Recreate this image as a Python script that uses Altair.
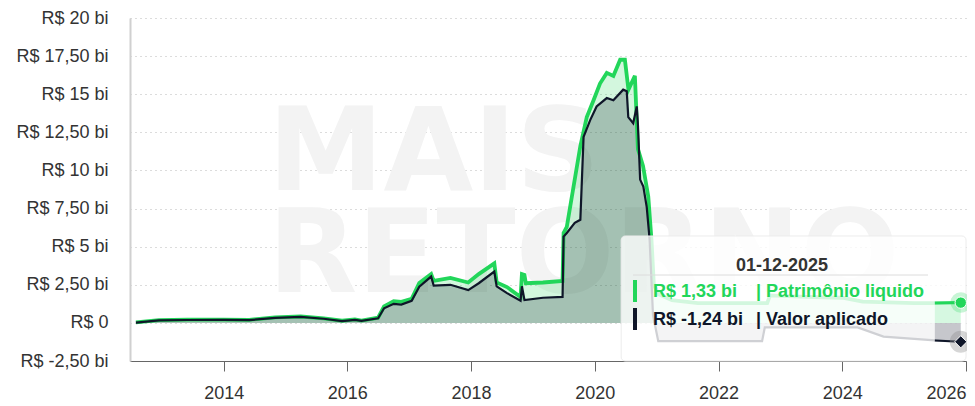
import altair as alt
import pandas as pd

# Patrimônio líquido (R$ bi)
pl_dates = ["2012-08-01","2012-12-15","2013-06-01","2014-01-01","2014-06-01","2014-11-01",
            "2015-04-01","2015-08-15","2015-12-01","2016-02-15","2016-03-25","2016-07-01",
            "2016-08-05","2016-10-01","2016-11-15","2017-01-15","2017-03-01","2017-05-10",
            "2017-05-25","2017-09-01","2017-12-15","2018-02-15","2018-05-18","2018-06-01",
            "2018-08-01","2018-10-20","2018-10-28","2018-11-12","2018-11-20","2019-03-01",
            "2019-06-25","2019-07-01","2019-07-20","2019-10-08","2019-11-15","2019-12-25",
            "2020-02-01","2020-03-12","2020-04-20","2020-05-30","2020-06-27","2020-07-18",
            "2020-08-25","2020-09-12","2020-10-12","2020-11-12","2020-12-01","2020-12-15",
            "2021-01-10","2021-04-01","2021-09-01","2022-06-01","2022-10-15","2022-11-01",
            "2023-06-01","2024-01-01","2024-05-01","2025-03-01","2025-07-01","2025-12-01"]
pl_values = [0.03,0.18,0.21,0.22,0.20,0.36,
             0.42,0.29,0.14,0.23,0.15,0.34,
             1.08,1.42,1.38,1.58,2.62,3.20,
             2.75,2.95,2.65,3.20,3.90,2.65,
             2.35,1.70,3.20,3.15,2.60,2.65,
             2.75,5.90,6.30,11.60,13.50,14.60,
             15.70,16.40,16.20,17.26,17.26,15.30,
             16.20,11.40,10.30,8.30,5.45,2.50,
             1.90,1.50,1.30,1.30,1.30,1.80,
             1.70,1.65,1.40,1.30,1.30,1.33]

# Valor aplicado (R$ bi)
va_dates = ["2012-08-01","2012-12-15","2013-06-01","2014-01-01","2014-06-01","2014-11-01",
            "2015-04-01","2015-08-15","2015-12-01","2016-02-15","2016-03-25","2016-07-01",
            "2016-08-05","2016-10-01","2016-11-15","2017-01-15","2017-03-01","2017-05-10",
            "2017-05-25","2017-09-01","2017-12-15","2018-02-15","2018-05-18","2018-06-01",
            "2018-08-01","2018-10-20","2018-10-28","2018-11-12","2019-03-01","2019-06-25",
            "2019-07-01","2019-07-20","2019-09-05","2019-10-08","2019-10-27","2019-12-05",
            "2020-01-12","2020-03-12","2020-04-20","2020-06-17","2020-07-08","2020-07-17",
            "2020-08-15","2020-09-05","2020-09-12","2020-09-25","2020-10-14","2020-11-03",
            "2020-11-20","2020-12-10","2021-01-10","2022-09-15","2022-10-01","2024-04-01",
            "2024-09-01","2025-07-01","2025-12-01"]
va_values = [0.02,0.17,0.19,0.20,0.18,0.33,
             0.40,0.27,0.12,0.20,0.13,0.30,
             0.96,1.25,1.20,1.45,2.38,3.04,
             2.45,2.50,2.15,2.60,3.37,2.40,
             1.95,1.46,2.40,1.50,1.65,1.70,
             5.66,5.90,6.56,6.76,12.20,13.30,
             14.20,14.75,14.60,15.30,15.20,13.50,
             13.10,14.20,13.00,9.40,8.94,7.60,
             5.45,0.50,-1.20,-1.20,-0.30,-0.30,
             -0.90,-1.15,-1.24]

y_ticks = [-2.5, 0.0, 2.5, 5.0, 7.5, 10.0, 12.5, 15.0, 17.5, 20.0]
y_tick_labels = ["R$ -2,50 bi", "R$ 0", "R$ 2,50 bi", "R$ 5 bi", "R$ 7,50 bi", "R$ 10 bi",
                 "R$ 12,50 bi", "R$ 15 bi", "R$ 17,50 bi", "R$ 20 bi"]
x_tick_years = [2014, 2016, 2018, 2020, 2022, 2024, 2026]

GREEN = "#22d65a"
NAVY = "#0f1629"
W, H = 836, 343

pl = pd.DataFrame({"date": [d + "T00:00:00" for d in pl_dates], "v": pl_values})
va = pd.DataFrame({"date": [d + "T00:00:00" for d in va_dates], "v": va_values})
one = pd.DataFrame({"k": [0]})

xscale = alt.Scale(domain=[alt.DateTime(year=2012, month=6, date=27),
                           alt.DateTime(year=2026, month=1, date=1)])
yscale = alt.Scale(domain=[-2.5, 20], nice=False, zero=False)

# label lookup keyed by tick index (value / 2.5)
label_map = ", ".join(f"'{int(round(v / 2.5))}': '{t}'" for v, t in zip(y_ticks, y_tick_labels))
label_expr = "{" + label_map + "}[toString(round(datum.value / 2.5))]"

X = alt.X("date:T", scale=xscale, title=None,
          axis=alt.Axis(values=[alt.DateTime(year=y, month=1, date=1) for y in x_tick_years],
                        format="%Y", grid=False, domainColor="#666", tickColor="#666",
                        tickSize=10, labelFontSize=18, labelColor="#333",
                        labelFont="Liberation Sans", labelPadding=13,
                        labelOverlap=False,
                        labelAlign={"condition": {"test": "year(datum.value) >= 2026", "value": "right"},
                                    "value": "center"}))
Y = alt.Y("v:Q", scale=yscale, title=None,
          axis=alt.Axis(values=y_ticks, labelExpr=label_expr, grid=True, gridDash=[1, 4],
                        gridColor="#b8b8b8", domainColor="#d0d0d0", domainWidth=2, ticks=False,
                        labelFontSize=18, labelColor="#333", labelFont="Liberation Sans",
                        labelPadding=22, labelOverlap=False, labelBound=False,
                        tickCount=10))

# watermark
wm_style = dict(font="DejaVu Sans", fontSize=116, fontWeight="bold", color="#f3f3f3",
                align="left", baseline="alphabetic")
wm1 = alt.Chart(one).mark_text(text="MAIS", **wm_style).encode(x=alt.value(138), y=alt.value(172))
wm2 = alt.Chart(one).mark_text(text="RETORNO", **wm_style).encode(x=alt.value(138), y=alt.value(274))

pl_area = alt.Chart(pl).mark_area(color=GREEN, opacity=0.2).encode(x=X, y=Y, y2=alt.datum(0))
va_area = alt.Chart(va).mark_area(color=NAVY, opacity=0.24).encode(x=X, y=Y, y2=alt.datum(0))
pl_line = alt.Chart(pl).mark_line(color=GREEN, strokeWidth=3.8).encode(x=X, y=Y)
va_line = alt.Chart(va).mark_line(color=NAVY, strokeWidth=2.2).encode(x=X, y=Y)

box = alt.Chart(one).mark_rect(fill="white", fillOpacity=0.8, stroke="#ececec",
                               strokeWidth=1, cornerRadius=4).encode(
    x=alt.datum(alt.DateTime(year=2020, month=6, date=5)),
    x2=alt.datum(alt.DateTime(year=2026, month=1, date=1)),
    y=alt.datum(5.7), y2=alt.datum(-2.5))

# last stretch highlighted above the box
pl_end = pl[pl["date"] >= "2025-07-01"]
va_end = va[va["date"] >= "2025-07-01"]
pl_end_area = alt.Chart(pl_end).mark_area(color=GREEN, opacity=0.15).encode(x=X, y=Y, y2=alt.datum(0))
va_end_area = alt.Chart(va_end).mark_area(color=NAVY, opacity=0.2).encode(x=X, y=Y, y2=alt.datum(0))
pl_end_line = alt.Chart(pl_end).mark_line(color=GREEN, strokeWidth=3).encode(x=X, y=Y)
va_end_line = alt.Chart(va_end).mark_line(color=NAVY, strokeWidth=2).encode(x=X, y=Y)

pl_last = pl.tail(1)
va_last = va.tail(1)
pl_halo = alt.Chart(pl_last).mark_point(shape="circle", filled=True, color=GREEN, opacity=0.25,
                                        size=420).encode(x=X, y=Y)
pl_dot = alt.Chart(pl_last).mark_point(shape="circle", filled=True, color=GREEN, opacity=1,
                                       size=130, stroke="white", strokeWidth=1).encode(x=X, y=Y)
va_halo = alt.Chart(va_last).mark_point(shape="circle", filled=True, color="#8a8a8a", opacity=0.35,
                                        size=480).encode(x=X, y=Y)
va_dot = alt.Chart(va_last).mark_point(shape="diamond", filled=True, color=NAVY, opacity=1,
                                       size=150, stroke="white", strokeWidth=1).encode(x=X, y=Y)

def fmt(v):
    s = f"{abs(v):.2f}".replace(".", ",")
    return ("-" if v < 0 else "") + s

tt = dict(font="Liberation Sans", fontSize=18, fontWeight="bold", align="left", baseline="middle")
t_date = alt.Chart(one).mark_text(text="01-12-2025", font="Liberation Sans", fontSize=18,
                                  fontWeight="bold", color="#333", align="center",
                                  baseline="middle").encode(x=alt.value(652), y=alt.value(248))
sep = alt.Chart(one).mark_rule(color="#dcdcdc", strokeWidth=1).encode(
    x=alt.value(503), x2=alt.value(798), y=alt.value(257))
bar_g = alt.Chart(one).mark_rect(color=GREEN).encode(
    x=alt.value(503), x2=alt.value(507), y=alt.value(262), y2=alt.value(284))
bar_b = alt.Chart(one).mark_rect(color=NAVY).encode(
    x=alt.value(503), x2=alt.value(507), y=alt.value(290), y2=alt.value(312))
t_pl_v = alt.Chart(one).mark_text(text=f"R$ {fmt(pl_values[-1])} bi", color=GREEN, **tt).encode(
    x=alt.value(523), y=alt.value(274))
t_pl_n = alt.Chart(one).mark_text(text="| Patrimônio liquido", color=GREEN, **tt).encode(
    x=alt.value(626), y=alt.value(274))
t_va_v = alt.Chart(one).mark_text(text=f"R$ {fmt(va_values[-1])} bi", color=NAVY, **tt).encode(
    x=alt.value(523), y=alt.value(302))
t_va_n = alt.Chart(one).mark_text(text="| Valor aplicado", color=NAVY, **tt).encode(
    x=alt.value(626), y=alt.value(302))

chart = alt.layer(
    wm1, wm2, pl_area, va_area, pl_line, va_line, box,
    pl_end_area, va_end_area, pl_end_line, va_end_line,
    pl_halo, va_halo, pl_dot, va_dot,
    t_date, sep, bar_g, bar_b, t_pl_v, t_pl_n, t_va_v, t_va_n
).properties(
    width=W, height=H,
    autosize=alt.AutoSizeParams(type="none"),
    padding={"left": 122, "top": 10, "right": 1, "bottom": 44},
).configure_view(strokeWidth=0)

chart.save("out.html", embed_options={"renderer": "svg", "actions": False})
